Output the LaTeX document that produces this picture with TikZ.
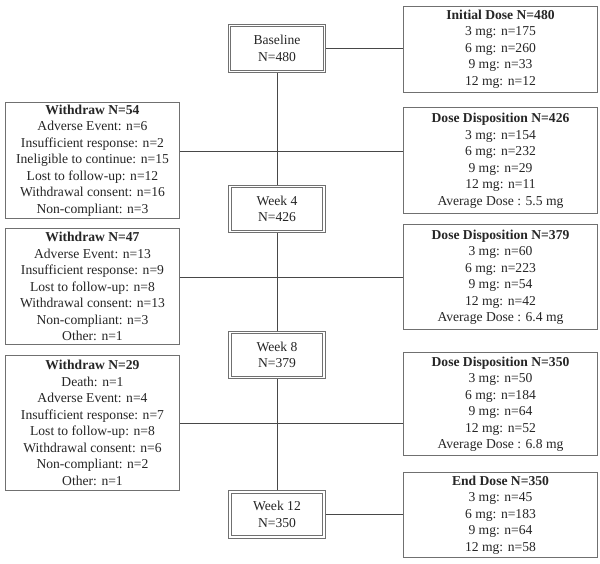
\documentclass[tikz,border=0pt]{standalone}
\usepackage{fontspec}
\setmainfont{Liberation Serif}
\definecolor{boxgray}{HTML}{707070}
\definecolor{linegray}{HTML}{484848}
\definecolor{textgray}{HTML}{262626}
\usetikzlibrary{positioning}
\tikzset{
    flowtext/.style={
        font=\fontsize{13.6}{16.5}\selectfont,
        text=textgray,
        align=center
    },
    stagebox/.style={
        flowtext,
        draw=boxgray,
        double,
        double distance=1.6pt,
        line width=0.9pt,
        fill=white,
        outer sep=1.7pt,
        inner sep=2pt,
        minimum width=94pt,
        minimum height=45pt
    },
    dosebox/.style={
        flowtext,
        draw=boxgray,
        fill=white,
        line width=1pt,
        inner xsep=3pt,
        inner ysep=2pt,
        minimum width=194pt
    },
    withdrawbox/.style={
        dosebox,
        minimum width=174pt
    },
    flowline/.style={
        draw=linegray,
        line width=0.9pt
    }
}

\begin{document}
\begin{tikzpicture}[x=1pt,y=-1pt]
    \useasboundingbox (0,0) rectangle (600,563);

    % study visits along the spine
    \node[stagebox,minimum width=95pt,minimum height=46pt] (base) at (277,48.5)
        {Baseline\\N=480};
    \node[stagebox] (wk4) at (277,209) {Week 4\\N=426};
    \node[stagebox] (wk8) at (277,355) {Week 8\\N=379};
    \node[stagebox] (wk12) at (277,514.5) {Week 12\\N=350};

    % dose boxes on the right
    \node[dosebox,minimum height=86pt] (init) at (500.5,49)
        {\textbf{Initial Dose N=480}\\3 mg: n=175\\6 mg: n=260\\
         9 mg: n=33\\12 mg: n=12};
    \node[dosebox,minimum height=106pt] (dd426) at (500.5,160.5)
        {\textbf{Dose Disposition N=426}\\3 mg: n=154\\6 mg: n=232\\
         9 mg: n=29\\12 mg: n=11\\Average Dose : 5.5 mg};
    \node[dosebox,minimum height=105pt] (dd379) at (500.5,277)
        {\textbf{Dose Disposition N=379}\\3 mg: n=60\\6 mg: n=223\\
         9 mg: n=54\\12 mg: n=42\\Average Dose : 6.4 mg};
    \node[dosebox,minimum height=103pt] (dd350) at (500.5,404)
        {\textbf{Dose Disposition N=350}\\3 mg: n=50\\6 mg: n=184\\
         9 mg: n=64\\12 mg: n=52\\Average Dose : 6.8 mg};
    \node[dosebox,minimum height=85pt] (enddose) at (500.5,515)
        {\textbf{End Dose N=350}\\3 mg: n=45\\6 mg: n=183\\
         9 mg: n=64\\12 mg: n=58};

    % withdrawals on the left
    \node[withdrawbox,minimum height=114pt] (wd54) at (92.5,160.5)
        {\textbf{Withdraw N=54}\\Adverse Event: n=6\\Insufficient response: n=2\\
         Ineligible to continue: n=15\\Lost to follow-up: n=12\\
         Withdrawal consent: n=16\\Non-compliant: n=3};
    \node[withdrawbox,minimum height=116pt] (wd47) at (92.5,286.5)
        {\textbf{Withdraw N=47}\\Adverse Event: n=13\\Insufficient response: n=9\\
         Lost to follow-up: n=8\\Withdrawal consent: n=13\\
         Non-compliant: n=3\\Other: n=1};
    \node[withdrawbox,minimum height=135pt] (wd29) at (92.5,423)
        {\textbf{Withdraw N=29}\\Death: n=1\\Adverse Event: n=4\\
         Insufficient response: n=7\\Lost to follow-up: n=8\\
         Withdrawal consent: n=6\\Non-compliant: n=2\\Other: n=1};

    % junctions on the spine
    \coordinate (j1) at (277,151);
    \coordinate (j2) at (277,277);
    \coordinate (j3) at (277,423);

    \draw[flowline] (base.south) -- (wk4.north);
    \draw[flowline] (wk4.south) -- (wk8.north);
    \draw[flowline] (wk8.south) -- (wk12.north);
    \draw[flowline] (base.east) -- (init.west |- base.east);
    \draw[flowline] (wd54.east |- j1) -- (dd426.west |- j1);
    \draw[flowline] (wd47.east |- j2) -- (dd379.west |- j2);
    \draw[flowline] (wd29.east |- j3) -- (dd350.west |- j3);
    \draw[flowline] (wk12.east) -- (enddose.west |- wk12.east);
\end{tikzpicture}
\end{document}
